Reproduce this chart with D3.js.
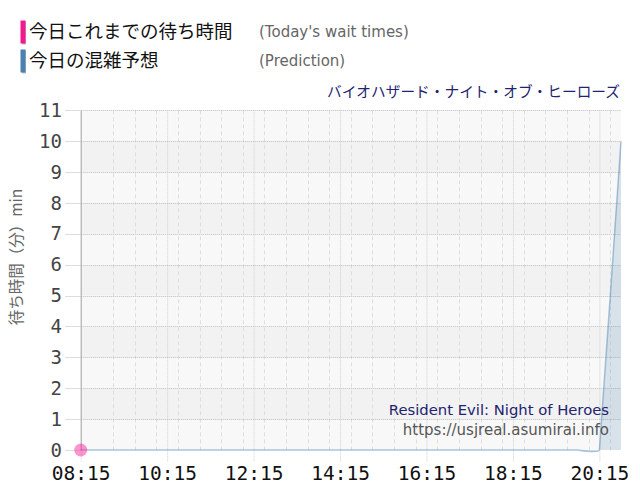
<!DOCTYPE html>
<html lang="ja">
<head>
<meta charset="UTF-8">
<title>待ち時間</title>
<script src="https://cdn.jsdelivr.net/npm/d3@7"></script>
<style>
  body { margin: 0; background: #fff; }
  svg { display: block; }
</style>
</head>
<body>
<script>
// 予想 (30分おき)
const predTimes = ["08:15","08:45","09:15","09:45","10:15","10:45","11:15","11:45","12:15","12:45",
  "13:15","13:45","14:15","14:45","15:15","15:45","16:15","16:45","17:15","17:45",
  "18:15","18:45","19:15","19:45","20:15","20:45"];
const predValues = [0,0,0,0,0,0,0,0,0,0,
  0,0,0,0,0,0,0,0,0,0,
  0,0,0,0,0,10];
// 今日これまで
const todayTimes = ["08:15"];
const todayValues = [0];

const xTickLabels = ["08:15","10:15","12:15","14:15","16:15","18:15","20:15"];
const yTicks = [0,1,2,3,4,5,6,7,8,9,10,11];

const legendJa = ["今日これまでの待ち時間", "今日の混雑予想"];
const legendEn = ["(Today's wait times)", "(Prediction)"];
const legendColors = ["#f5178f", "#4a80b2"];

const width = 640, height = 500;
const pLeft = 80.7, pRight = 621, pTop = 110.3, pBottom = 450;

const parse = d3.timeParse("%H:%M");
const jp = "'Noto Sans CJK JP', sans-serif";

const x = d3.scaleTime()
    .domain([parse("08:15"), parse("20:45")])
    .range([pLeft, pRight]);
const y = d3.scaleLinear()
    .domain([0, 11])
    .range([pBottom, pTop]);
const crisp = v => Math.round(v) + 0.5;

const svg = d3.select("body").append("svg")
    .attr("width", width)
    .attr("height", height);

// 背景の帯
svg.append("g")
  .selectAll("rect")
  .data(yTicks.slice(0, -1))
  .join("rect")
    .attr("x", pLeft)
    .attr("width", pRight - pLeft)
    .attr("y", d => y(d + 1))
    .attr("height", d => y(d) - y(d + 1))
    .attr("fill", d => d % 2 ? "#f2f2f2" : "#f8f8f8");

// 縦グリッド 30分
const minor = d3.timeMinute.every(30).range(parse("08:45"), parse("20:46"))
    .filter(d => (d.getHours() - 8) % 2 !== 0 || d.getMinutes() !== 15);
svg.append("g")
  .selectAll("line")
  .data(minor)
  .join("line")
    .attr("x1", d => crisp(x(d))).attr("x2", d => crisp(x(d)))
    .attr("y1", pTop).attr("y2", pBottom)
    .attr("stroke", "#dedede")
    .attr("stroke-dasharray", "4,3");

// 横グリッド
svg.append("g")
  .selectAll("line")
  .data(yTicks.slice(1))
  .join("line")
    .attr("x1", pLeft).attr("x2", pRight)
    .attr("y1", d => crisp(y(d))).attr("y2", d => crisp(y(d)))
    .attr("stroke", "#bdbdbd")
    .attr("stroke-dasharray", "1,1");

// y 目盛りの短い線
svg.append("g")
  .selectAll("line")
  .data(yTicks)
  .join("line")
    .attr("x1", 65).attr("x2", pLeft)
    .attr("y1", d => crisp(y(d))).attr("y2", d => crisp(y(d)))
    .attr("stroke", "#ddd");

// x 軸 (2時間おき)
const xAxis = d3.axisBottom(x)
    .tickValues(xTickLabels.map(parse))
    .tickFormat(d3.timeFormat("%H:%M"))
    .tickSize(pBottom - pTop + 12)
    .tickPadding(6);
const gx = svg.append("g")
    .attr("transform", `translate(0,${pTop})`)
    .call(xAxis);
gx.select(".domain").remove();
gx.selectAll(".tick line")
    .attr("stroke", "#cfcfcf")
    .attr("stroke-dasharray", "1,1");
gx.selectAll(".tick text")
    .attr("y", pBottom - pTop + 16)
    .attr("dy", "0.71em")
    .attr("fill", "#111")
    .attr("font-family", "'DejaVu Sans Mono', monospace")
    .attr("font-size", 19.5);

// y 軸
const yAxis = d3.axisLeft(y).tickValues(yTicks).tickSize(0).tickPadding(pLeft - 62);
const gy = svg.append("g")
    .attr("transform", `translate(${pLeft},0)`)
    .call(yAxis);
gy.select(".domain").attr("stroke", "#aaa");
gy.selectAll(".tick text")
    .attr("fill", "#444")
    .attr("font-family", "'DejaVu Sans Mono', monospace")
    .attr("font-size", 19);

// 予想
const pred = predTimes.map((t, i) => ({ t: parse(t), v: predValues[i] }));
const curve = d3.curveCardinal.tension(0.93);
svg.append("path")
    .datum(pred)
    .attr("fill", "#4682b4")
    .attr("fill-opacity", 0.18)
    .attr("d", d3.area().curve(curve).x(d => x(d.t)).y0(y(0)).y1(d => y(d.v)));
svg.append("path")
    .datum(pred)
    .attr("fill", "none")
    .attr("stroke", "#4682b4")
    .attr("stroke-opacity", 0.45)
    .attr("stroke-width", 1.5)
    .attr("d", d3.line().curve(curve).x(d => x(d.t)).y(d => y(d.v)));

// 今日の実績
svg.append("g")
  .selectAll("circle")
  .data(todayTimes.map((t, i) => ({ t: parse(t), v: todayValues[i] })))
  .join("circle")
    .attr("cx", d => x(d.t))
    .attr("cy", d => y(d.v))
    .attr("r", 6.5)
    .attr("fill", "#ff1493")
    .attr("fill-opacity", 0.45);

// y 軸タイトル
svg.append("text")
    .attr("transform", "translate(22,257) rotate(-90)")
    .attr("text-anchor", "middle")
    .attr("fill", "#666")
    .attr("font-family", jp)
    .attr("font-size", 15.5)
    .text("待ち時間（分）min");

// 凡例
const lg = svg.append("g").selectAll("g")
  .data(legendJa)
  .join("g")
    .attr("transform", (d, i) => `translate(0,${31.5 + i * 29})`);
lg.append("rect")
    .attr("x", 22).attr("y", -10).attr("width", 4).attr("height", 23)
    .attr("fill", "#bbb");
lg.append("rect")
    .attr("x", 20.5).attr("y", -11).attr("width", 5).attr("height", 23)
    .attr("fill", (d, i) => legendColors[i]);
lg.append("text")
    .attr("x", 29).attr("dy", "0.36em")
    .attr("font-family", jp)
    .attr("font-size", 18.5)
    .attr("fill", "#111")
    .text(d => d);
lg.append("text")
    .attr("x", 259).attr("dy", "0.36em")
    .attr("font-family", "'DejaVu Sans', sans-serif")
    .attr("font-size", 15)
    .attr("fill", "#666")
    .text((d, i) => legendEn[i]);

// アトラクション名
svg.append("text")
    .attr("x", 620).attr("y", 92).attr("dy", "0.36em")
    .attr("text-anchor", "end")
    .attr("font-family", jp)
    .attr("font-size", 14.7)
    .attr("fill", "#22226e")
    .text("バイオハザード・ナイト・オブ・ヒーローズ");

// 透かし
svg.append("text")
    .attr("x", 609).attr("y", 410).attr("dy", "0.36em")
    .attr("text-anchor", "end")
    .attr("font-family", "'DejaVu Sans', sans-serif")
    .attr("font-size", 14.8)
    .attr("fill", "#22226e")
    .text("Resident Evil: Night of Heroes");
svg.append("text")
    .attr("x", 609).attr("y", 430).attr("dy", "0.36em")
    .attr("text-anchor", "end")
    .attr("font-family", "'DejaVu Sans', sans-serif")
    .attr("font-size", 15)
    .attr("fill", "#555")
    .text("https://usjreal.asumirai.info");
</script>
</body>
</html>
